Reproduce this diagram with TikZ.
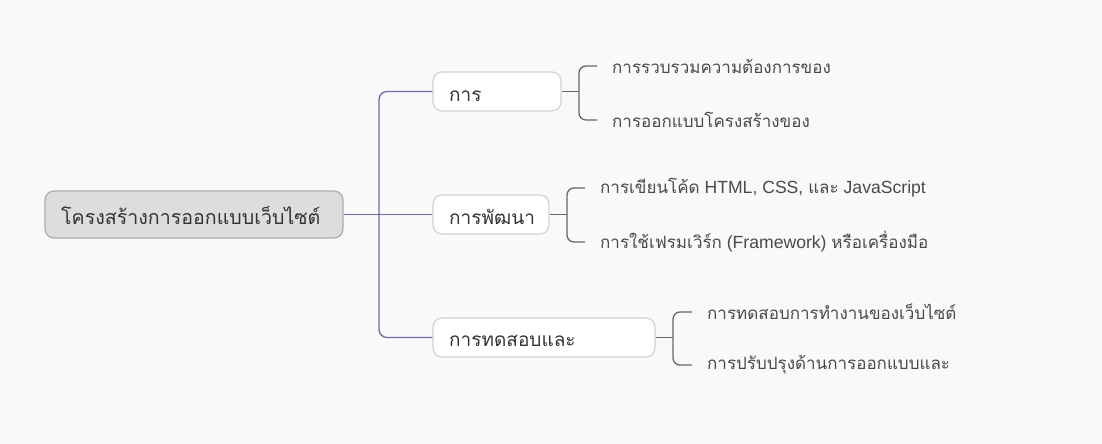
\documentclass[tikz,border=0pt]{standalone}
\usepackage{fontspec}
\setmainfont{Liberation Sans}
\newfontfamily\thai[Script=Thai]{Loma}
\usetikzlibrary{calc}
\definecolor{bg}{HTML}{F9F9F9}
\definecolor{rootfill}{HTML}{DDDDDD}
\definecolor{rootline}{HTML}{ADADAD}
\definecolor{trunkc}{HTML}{7468A8}
\definecolor{leafc}{HTML}{6E6464}
\definecolor{boxline}{HTML}{D2D2D2}
\definecolor{txt}{HTML}{333333}
\definecolor{leaftxt}{HTML}{4A4A4A}
\tikzset{
  rootbox/.style={draw=rootline, fill=rootfill, rounded corners=9pt, line width=1.2pt, minimum width=298pt, minimum height=47pt},
  subbox/.style={draw=boxline, fill=white, rounded corners=9pt, line width=1.2pt, minimum height=39pt},
  roottext/.style={text=txt, font=\thai\fontsize{19.6}{22}\selectfont, inner sep=0pt, anchor=west},
  subtext/.style={text=txt, font=\thai\fontsize{19}{21}\selectfont, inner sep=0pt, anchor=west},
  leaftext/.style={text=leaftxt, font=\fontsize{17.6}{19}\selectfont, inner sep=0pt, anchor=west},
  trunk/.style={draw=trunkc, line width=1.3pt, rounded corners=8pt},
  leafline/.style={draw=leafc, line width=1.3pt, rounded corners=7pt},
}
\newcommand{\thtxt}[1]{{\thai\fontsize{17}{19}\selectfont #1}}
\begin{document}
\begin{tikzpicture}[x=1pt,y=-1pt]
\useasboundingbox[fill=bg] (0,0) rectangle (1102,444);
% root
\node[rootbox] (root) at (194,214.5) {};
\node[roottext] (roott) at (61,215) {โครงสร้างการออกแบบเว็บไซต์};
% sub boxes
\node[subbox, minimum width=128pt] (c1) at (497,91.5) {};
\node[subbox, minimum width=116pt] (c2) at (491,214.5) {};
\node[subbox, minimum width=222pt] (c3) at (544,337.5) {};
\node[subtext] (c1t) at (449,96) {การ};
\node[subtext] (c2t) at (449,217) {การพัฒนา};
\node[subtext] (c3t) at (449,341) {การทดสอบและ};
% trunk
\coordinate (t) at (379,214.5);
\draw[trunk] (root.east) -- (c2.west);
\draw[trunk] (t) |- (c1.west);
\draw[trunk] (t) |- (c3.west);
% leaves
\node[leaftext] (l11) at (612,66) {\thtxt{การรวบรวมความต้องการของ}};
\node[leaftext] (l12) at (612,120) {\thtxt{การออกแบบโครงสร้างของ}};
\node[leaftext] (l21) at (600,188) {\thtxt{การเขียนโค้ด} HTML, CSS, \thtxt{และ} JavaScript};
\node[leaftext] (l22) at (600,242) {\thtxt{การใช้เฟรมเวิร์ก} (Framework) \thtxt{หรือเครื่องมือ}};
\node[leaftext] (l31) at (707,312) {\thtxt{การทดสอบการทำงานของเว็บไซต์}};
\node[leaftext] (l32) at (707,365) {\thtxt{การปรับปรุงด้านการออกแบบและ}};
\coordinate (b1) at (579,91.5);
\coordinate (b2) at (567,214.5);
\coordinate (b3) at (673,337.5);
\draw[leafline] (c1.east) -- (b1);
\draw[leafline] ($(l11.west)+(-15,0)$) -| (b1) |- ($(l12.west)+(-15,0)$);
\draw[leafline] (c2.east) -- (b2);
\draw[leafline] ($(l21.west)+(-15,0)$) -| (b2) |- ($(l22.west)+(-15,0)$);
\draw[leafline] (c3.east) -- (b3);
\draw[leafline] ($(l31.west)+(-15,0)$) -| (b3) |- ($(l32.west)+(-15,0)$);
\end{tikzpicture}
\end{document}
